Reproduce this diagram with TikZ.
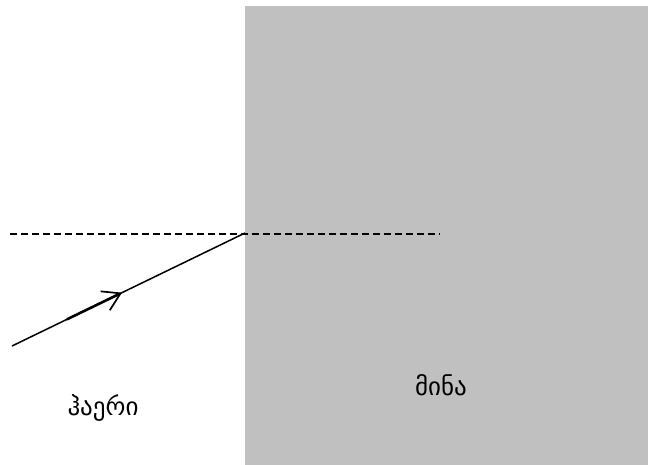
\documentclass[tikz,border=0pt]{standalone}
\usepackage{fontspec}
\newfontfamily\geo{DejaVu Sans}
\usetikzlibrary{arrows.meta,calc}
\begin{document}
\begin{tikzpicture}[x=1pt,y=-1pt,
  ray/.style={line width=1.5pt},
  guide/.style={line width=1.3pt,dash pattern=on 7pt off 4pt},
  lbl/.style={font=\geo\fontsize{25}{28}\selectfont,inner sep=0pt}]
\useasboundingbox (0,0) rectangle (650,465);
\fill[fill={rgb,255:red,192;green,192;blue,192}] (245,6) rectangle (648,465);
\coordinate (a) at (10,234);
\coordinate (b) at (440,234);
\coordinate (s) at (12,346);
\coordinate (o) at (245,233);
\draw[guide] (a) -- (b);
\draw[ray] (s) -- (o);
\draw[line width=2.6pt,-{Straight Barb[length=17pt,width=21pt,line width=1.7pt]}] ($(s)!0.236!(o)$) -- ($(s)!0.472!(o)$);
\node[lbl] (air) at (103,408) {ჰაერი};
\node[lbl] (glass) at (441,385) {მინა};
\end{tikzpicture}
\end{document}
